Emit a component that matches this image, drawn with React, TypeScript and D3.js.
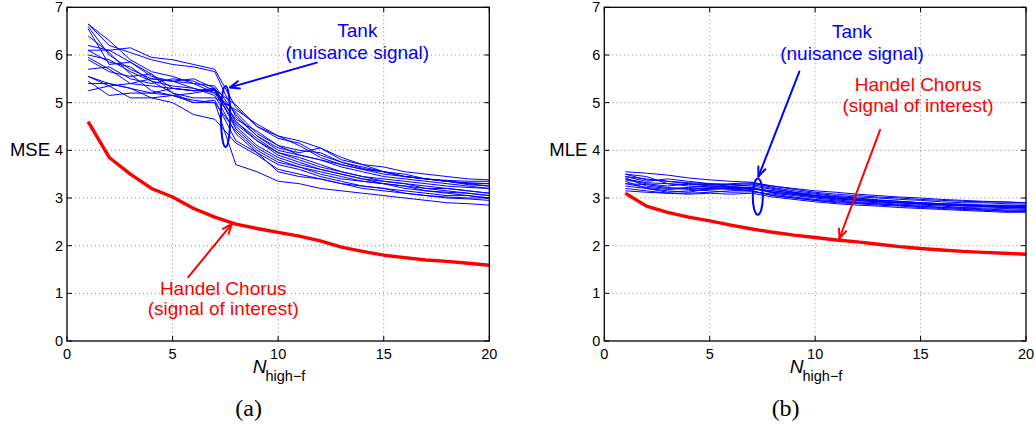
import React from 'react';
import * as d3 from 'd3';

const nValues = d3.range(1, 21);
const xTicks = [0, 5, 10, 15, 20];
const yTicks = [0, 1, 2, 3, 4, 5, 6, 7];

const mseHandel = [4.6, 3.85, 3.5, 3.2, 3.02, 2.78, 2.6, 2.45, 2.36, 2.28, 2.2, 2.1, 1.97, 1.88, 1.8, 1.75, 1.7, 1.67, 1.63, 1.59];
const mseTank = [
  [6.1, 6.1, 6.15, 5.95, 5.9, 5.8, 5.7, 4.9, 4.5, 4.3, 4.2, 4.05, 3.8, 3.7, 3.65, 3.55, 3.5, 3.45, 3.4, 3.38],
  [6.65, 6.2, 6.05, 5.9, 5.8, 5.75, 5.65, 4.7, 4.3, 4.0, 3.9, 3.8, 3.7, 3.6, 3.55, 3.5, 3.4, 3.35, 3.3, 3.3],
  [6.6, 6.0, 5.7, 5.5, 5.45, 5.5, 5.3, 4.6, 4.25, 3.95, 3.85, 3.7, 3.55, 3.45, 3.35, 3.3, 3.25, 3.2, 3.15, 3.1],
  [6.55, 5.8, 5.85, 5.6, 5.3, 5.25, 5.25, 4.5, 4.1, 3.85, 3.7, 3.6, 3.5, 3.4, 3.3, 3.25, 3.2, 3.15, 3.1, 3.05],
  [6.4, 6.05, 5.6, 5.25, 5.15, 5.05, 5.0, 4.4, 4.0, 3.75, 3.65, 3.55, 3.45, 3.35, 3.3, 3.2, 3.15, 3.12, 3.1, 3.05],
  [6.2, 6.1, 5.85, 5.55, 5.45, 5.3, 5.2, 4.8, 4.35, 4.1, 3.9, 3.8, 3.65, 3.55, 3.45, 3.4, 3.35, 3.3, 3.25, 3.2],
  [5.95, 5.7, 5.4, 5.35, 5.3, 5.25, 5.27, 4.95, 4.5, 4.25, 4.15, 3.9, 3.75, 3.62, 3.55, 3.45, 3.4, 3.35, 3.32, 3.3],
  [5.9, 5.65, 5.55, 5.6, 5.2, 5.0, 5.05, 4.2, 3.95, 3.7, 3.6, 3.45, 3.35, 3.25, 3.2, 3.1, 3.05, 3.0, 2.98, 2.95],
  [5.7, 5.75, 5.5, 5.4, 5.5, 5.45, 5.25, 4.65, 4.4, 4.1, 4.0, 3.95, 3.75, 3.65, 3.55, 3.45, 3.4, 3.35, 3.3, 3.25],
  [5.55, 5.35, 5.1, 5.1, 5.0, 4.75, 4.65, 4.15, 3.9, 3.6, 3.5, 3.4, 3.3, 3.2, 3.15, 3.1, 3.05, 3.02, 3.0, 3.0],
  [5.45, 5.15, 5.2, 5.2, 5.15, 5.0, 5.0, 3.7, 3.55, 3.35, 3.3, 3.2, 3.15, 3.1, 3.05, 3.0, 2.95, 2.9, 2.88, 2.85],
  [5.4, 5.4, 5.3, 5.2, 5.3, 5.25, 5.3, 4.6, 4.2, 3.95, 3.8, 3.65, 3.55, 3.45, 3.4, 3.35, 3.3, 3.25, 3.22, 3.2],
  [5.25, 5.35, 5.4, 5.5, 5.45, 5.4, 5.35, 4.75, 4.3, 4.05, 3.95, 4.05, 3.85, 3.7, 3.55, 3.45, 3.4, 3.37, 3.35, 3.35],
  [6.65, 6.3, 5.9, 5.65, 5.55, 5.4, 5.2, 4.55, 4.2, 3.9, 3.75, 3.6, 3.5, 3.4, 3.35, 3.3, 3.2, 3.2, 3.15, 3.1],
  [6.1, 5.85, 5.75, 5.45, 5.2, 5.1, 5.1, 4.85, 4.55, 4.3, 4.1, 3.85, 3.7, 3.6, 3.5, 3.45, 3.4, 3.35, 3.28, 3.25],
  [5.55, 5.4, 5.3, 5.1, 5.15, 5.2, 5.28, 4.45, 4.05, 3.8, 3.65, 3.5, 3.4, 3.35, 3.3, 3.25, 3.15, 3.1, 3.05, 3.0],
  [6.0, 5.9, 5.65, 5.45, 5.35, 5.3, 5.15, 4.35, 3.95, 3.55, 3.45, 3.4, 3.3, 3.25, 3.2, 3.15, 3.1, 3.05, 3.05, 3.0],
];

const mleHandel = [3.1, 2.83, 2.7, 2.6, 2.52, 2.43, 2.35, 2.28, 2.22, 2.17, 2.12, 2.08, 2.03, 1.98, 1.94, 1.91, 1.88, 1.86, 1.84, 1.82];
const mleTank = [
  [3.55, 3.52, 3.48, 3.42, 3.38, 3.35, 3.33, 3.25, 3.2, 3.15, 3.12, 3.08, 3.05, 3.02, 3.0, 2.97, 2.95, 2.93, 2.92, 2.9],
  [3.5, 3.45, 3.3, 3.28, 3.27, 3.3, 3.32, 3.22, 3.15, 3.1, 3.05, 3.02, 3.0, 2.97, 2.95, 2.92, 2.9, 2.9, 2.88, 2.87],
  [3.45, 3.35, 3.4, 3.35, 3.3, 3.28, 3.25, 3.18, 3.12, 3.08, 3.03, 3.0, 2.96, 2.93, 2.9, 2.88, 2.86, 2.85, 2.84, 2.82],
  [3.42, 3.25, 3.2, 3.22, 3.25, 3.22, 3.22, 3.1, 3.05, 3.0, 2.96, 2.92, 2.9, 2.87, 2.85, 2.83, 2.8, 2.79, 2.78, 2.76],
  [3.38, 3.3, 3.25, 3.3, 3.28, 3.25, 3.28, 3.2, 3.12, 3.05, 3.0, 2.97, 2.93, 2.9, 2.88, 2.86, 2.84, 2.82, 2.8, 2.8],
  [3.35, 3.2, 3.12, 3.15, 3.18, 3.2, 3.15, 3.05, 3.0, 2.95, 2.92, 2.9, 2.87, 2.85, 2.82, 2.8, 2.78, 2.75, 2.72, 2.72],
  [3.3, 3.28, 3.22, 3.18, 3.15, 3.12, 3.13, 3.08, 3.02, 2.97, 2.94, 2.9, 2.88, 2.85, 2.83, 2.8, 2.79, 2.77, 2.75, 2.74],
  [3.25, 3.2, 3.15, 3.12, 3.2, 3.22, 3.2, 3.12, 3.08, 3.03, 2.98, 2.95, 2.92, 2.9, 2.87, 2.85, 2.83, 2.82, 2.8, 2.78],
  [3.2, 3.15, 3.1, 3.1, 3.12, 3.15, 3.18, 3.15, 3.1, 3.05, 3.0, 2.97, 2.95, 2.92, 2.9, 2.88, 2.86, 2.84, 2.83, 2.82],
  [3.15, 3.12, 3.1, 3.08, 3.1, 3.08, 3.1, 3.02, 2.97, 2.92, 2.88, 2.85, 2.83, 2.8, 2.78, 2.76, 2.74, 2.72, 2.7, 2.7],
  [3.4, 3.32, 3.3, 3.25, 3.22, 3.2, 3.2, 3.15, 3.1, 3.05, 3.02, 2.98, 2.95, 2.93, 2.9, 2.88, 2.87, 2.85, 2.85, 2.84],
  [3.5, 3.38, 3.35, 3.32, 3.3, 3.28, 3.3, 3.25, 3.18, 3.12, 3.08, 3.05, 3.02, 3.0, 2.97, 2.95, 2.93, 2.92, 2.91, 2.9],
  [3.3, 3.22, 3.18, 3.2, 3.2, 3.18, 3.15, 3.05, 3.0, 2.95, 2.9, 2.88, 2.85, 2.83, 2.8, 2.78, 2.76, 2.74, 2.73, 2.72],
  [3.45, 3.4, 3.35, 3.3, 3.25, 3.24, 3.22, 3.12, 3.07, 3.02, 2.98, 2.95, 2.92, 2.9, 2.88, 2.86, 2.84, 2.83, 2.82, 2.8],
];

// Annotation anchors, in data units
const mseAnno = {
  ellipse: { x: 7.51, y: 4.71, rx: 0.22, ry: 0.64 },
  tankArrow: { from: [11.83, 5.84], to: [7.72, 5.32] },
  tankText: { x: 13.75, y1: 6.38, y2: 5.91 },
  handelArrow: { from: [5.74, 1.34], to: [7.8, 2.45] },
  handelText: { x: 7.4, y1: 0.955, y2: 0.545 },
};
const mleAnno = {
  ellipse: { x: 7.28, y: 3.03, rx: 0.24, ry: 0.38 },
  tankArrow: { from: [9.25, 5.65], to: [7.31, 3.45] },
  tankText: { x: 11.75, y1: 6.36, y2: 5.9 },
  handelArrow: { from: [13.08, 4.43], to: [11.15, 2.15] },
  handelText: { x: 14.88, y1: 5.25, y2: 4.81 },
};

const BLUE = '#0000ff';
const RED = '#ff0000';
const SANS = '"Liberation Sans", Arial, Helvetica, sans-serif';

function Arrow({ x1, y1, x2, y2, color }: any) {
  const ang = Math.atan2(y2 - y1, x2 - x1);
  const L = 10;
  const a = (22 * Math.PI) / 180;
  const p1 = [x2 - L * Math.cos(ang - a), y2 - L * Math.sin(ang - a)];
  const p2 = [x2 - L * Math.cos(ang + a), y2 - L * Math.sin(ang + a)];
  return (
    <g stroke={color} strokeWidth={2} fill="none" strokeLinecap="round" strokeLinejoin="round">
      <line x1={x1} y1={y1} x2={x2} y2={y2} />
      <path d={`M${p1[0]},${p1[1]} L${x2},${y2} L${p2[0]},${p2[1]}`} />
    </g>
  );
}

function Panel({ left, right, yLabel, tank, handel, anno, caption }: any) {
  const x = d3.scaleLinear().domain([0, 20]).range([left, right]);
  const y = d3.scaleLinear().domain([0, 7]).range([341, 7.3]);
  const line = d3
    .line<number>()
    .x((_, i) => x(nValues[i]))
    .y((d) => y(d));
  const top = y(7);
  const bottom = y(0);
  const tick = 5;
  return (
    <g>
      <g stroke="#888" strokeWidth={1} strokeDasharray="1,3">
        {xTicks.slice(1, -1).map((t) => (
          <line key={'gx' + t} x1={x(t)} x2={x(t)} y1={top} y2={bottom} />
        ))}
        {yTicks.slice(1, -1).map((t) => (
          <line key={'gy' + t} x1={left} x2={right} y1={y(t)} y2={y(t)} />
        ))}
      </g>
      <g fill="none" stroke={BLUE} strokeWidth={1} strokeLinejoin="round">
        {tank.map((c: number[], i: number) => (
          <path key={i} d={line(c) as string} />
        ))}
      </g>
      <path d={line(handel) as string} fill="none" stroke={RED} strokeWidth={3.4} strokeLinejoin="round" />
      <rect x={left} y={top} width={right - left} height={bottom - top} fill="none" stroke="#000" strokeWidth={1.3} />
      <g stroke="#000" strokeWidth={1}>
        {xTicks.map((t) => (
          <g key={'tx' + t}>
            <line x1={x(t)} x2={x(t)} y1={bottom} y2={bottom - tick} />
            <line x1={x(t)} x2={x(t)} y1={top} y2={top + tick} />
          </g>
        ))}
        {yTicks.map((t) => (
          <g key={'ty' + t}>
            <line x1={left} x2={left + tick} y1={y(t)} y2={y(t)} />
            <line x1={right} x2={right - tick} y1={y(t)} y2={y(t)} />
          </g>
        ))}
      </g>
      <g fontFamily={SANS} fontSize={14.5} fill="#000">
        {xTicks.map((t) => (
          <text key={'lx' + t} x={x(t)} y={bottom + 18} textAnchor="middle">
            {t}
          </text>
        ))}
        {yTicks.map((t) => (
          <text key={'ly' + t} x={left - 4} y={y(t) + 5} textAnchor="end">
            {t}
          </text>
        ))}
      </g>
      <text x={left - 17} y={y(4) + 6} textAnchor="end" fontFamily={SANS} fontSize={18.5}>
        {yLabel}
      </text>
      <text x={x(8.8)} y={373} fontFamily={SANS} fontSize={19} fontStyle="italic">
        N
      </text>
      <text x={x(9.4)} y={381} fontFamily={SANS} fontSize={14.5}>
        high−f
      </text>
      <text x={x(8.6)} y={416} textAnchor="middle" fontFamily='"Liberation Serif", "Times New Roman", serif' fontSize={24}>
        {caption}
      </text>
      <ellipse
        cx={x(anno.ellipse.x)}
        cy={y(anno.ellipse.y)}
        rx={x(anno.ellipse.rx) - x(0)}
        ry={y(0) - y(anno.ellipse.ry)}
        fill="none"
        stroke={BLUE}
        strokeWidth={2}
      />
      <Arrow
        x1={x(anno.tankArrow.from[0])}
        y1={y(anno.tankArrow.from[1])}
        x2={x(anno.tankArrow.to[0])}
        y2={y(anno.tankArrow.to[1])}
        color={BLUE}
      />
      <Arrow
        x1={x(anno.handelArrow.from[0])}
        y1={y(anno.handelArrow.from[1])}
        x2={x(anno.handelArrow.to[0])}
        y2={y(anno.handelArrow.to[1])}
        color={RED}
      />
      <g fontFamily={SANS} fontSize={19} textAnchor="middle">
        <text x={x(anno.tankText.x)} y={y(anno.tankText.y1)} fill={BLUE}>
          Tank
        </text>
        <text x={x(anno.tankText.x)} y={y(anno.tankText.y2)} fill={BLUE}>
          (nuisance signal)
        </text>
        <text x={x(anno.handelText.x)} y={y(anno.handelText.y1)} fill={RED}>
          Handel Chorus
        </text>
        <text x={x(anno.handelText.x)} y={y(anno.handelText.y2)} fill={RED}>
          (signal of interest)
        </text>
      </g>
    </g>
  );
}

export default function App() {
  return (
    <svg width={1036} height={428} style={{ position: 'absolute', left: 0, top: 0, background: '#fff' }}>
      <rect width={1036} height={428} fill="#fff" />
      <Panel left={67} right={489.3} yLabel="MSE" tank={mseTank} handel={mseHandel} anno={mseAnno} caption="(a)" />
      <Panel left={604.3} right={1026} yLabel="MLE" tank={mleTank} handel={mleHandel} anno={mleAnno} caption="(b)" />
    </svg>
  );
}
